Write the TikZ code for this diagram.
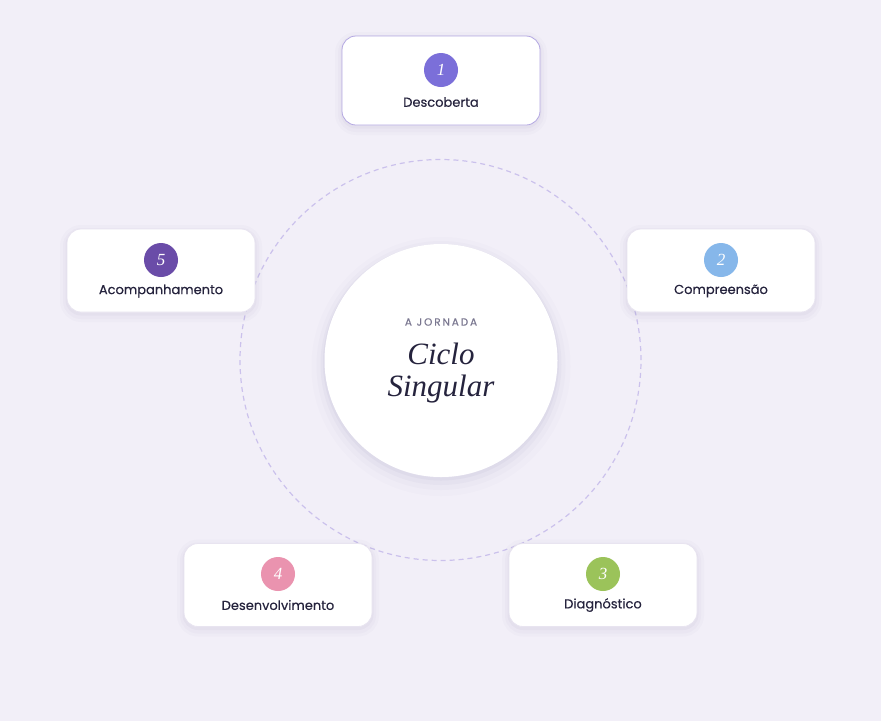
\documentclass[tikz,border=0pt]{standalone}
\usepackage{fontspec}
\setmainfont{Liberation Serif}
\newfontfamily\labelfont[FakeBold=0.35]{Poppins}
\newfontfamily\capsfont[LetterSpace=18,FakeBold=0.25]{Poppins}
\definecolor{bg}{HTML}{F2EFF8}
\definecolor{ring}{HTML}{CBC1EC}
\definecolor{cardline}{HTML}{E8E4F0}
\definecolor{activeline}{HTML}{B4A8E2}
\definecolor{ink}{HTML}{25233D}
\definecolor{capsgray}{HTML}{7A7790}
\definecolor{shade}{HTML}{4A3F7A}
\definecolor{cA}{HTML}{7B6FD9}
\definecolor{cB}{HTML}{86B7EA}
\definecolor{cC}{HTML}{9BC35A}
\definecolor{cD}{HTML}{EA93AF}
\definecolor{cE}{HTML}{6A4CA8}
\tikzset{
  softshadow/.style={
    preaction={draw=shade, draw opacity=0.018, line width=14pt, transform canvas={yshift=-3pt}},
    preaction={draw=shade, draw opacity=0.025, line width=8pt, transform canvas={yshift=-3pt}},
    preaction={draw=shade, draw opacity=0.035, line width=3pt, transform canvas={yshift=-2pt}}},
  card/.style={softshadow, draw=cardline, line width=0.8pt, fill=white, rounded corners=14pt,
    minimum width=188pt, minimum height=83pt},
  activecard/.style={card, draw=activeline, minimum width=198pt, minimum height=89pt},
  numdot/.style={circle, minimum size=34pt, inner sep=0pt, text=white,
    font=\itshape\fontsize{17}{17}\selectfont},
  steplabel/.style={text=ink, font=\labelfont\fontsize{13}{13}\selectfont},
  hub/.style={circle, fill=white, minimum size=233pt, inner sep=0pt,
    preaction={draw=shade, draw opacity=0.015, line width=26pt, transform canvas={yshift=-6pt}},
    preaction={draw=shade, draw opacity=0.02, line width=16pt, transform canvas={yshift=-5pt}},
    preaction={draw=shade, draw opacity=0.03, line width=8pt, transform canvas={yshift=-4pt}},
    preaction={draw=shade, draw opacity=0.04, line width=3pt, transform canvas={yshift=-2pt}}},
}
\begin{document}
\begin{tikzpicture}[x=1pt,y=-1pt]
\fill[bg] (0,0) rectangle (881,721);
\useasboundingbox (0,0) rectangle (881,721);
\node[circle, draw=ring, line width=1.2pt, dash pattern=on 5pt off 4pt,
  minimum size=401pt, inner sep=0pt] (orbit) at (440.5,360) {};
\node[hub] (hub) at (441,360.5) {};
\node[text=capsgray, font=\capsfont\fontsize{10.5}{10.5}\selectfont] (kicker) at (441,322) {A JORNADA};
\node[text=ink, font=\itshape\fontsize{31}{31}\selectfont] (t1) at (441,354) {Ciclo};
\node[text=ink, font=\itshape\fontsize{31}{31}\selectfont] (t2) at (441,389) {Singular};

\node[activecard] (s1) at (441,80.5) {};
\node[numdot, fill=cA] (n1) at (441,70) {1};
\node[steplabel] (l1) at (441,102) {Descoberta};

\node[card] (s2) at (721,270.5) {};
\node[numdot, fill=cB] (n2) at (721,260) {2};
\node[steplabel] (l2) at (721,291) {Compreensão};

\node[card] (s3) at (603,585) {};
\node[numdot, fill=cC] (n3) at (603,574) {3};
\node[steplabel] (l3) at (603,605) {Diagnóstico};

\node[card] (s4) at (278,585) {};
\node[numdot, fill=cD] (n4) at (278,574) {4};
\node[steplabel] (l4) at (278,605) {Desenvolvimento};

\node[card] (s5) at (161,270.5) {};
\node[numdot, fill=cE] (n5) at (161,260) {5};
\node[steplabel] (l5) at (161,291) {Acompanhamento};
\end{tikzpicture}
\end{document}
